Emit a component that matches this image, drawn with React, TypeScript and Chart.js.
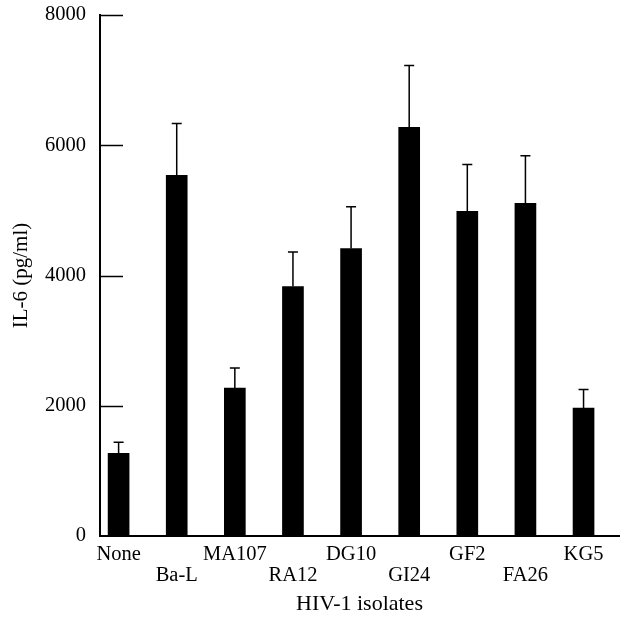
import React, { useEffect, useRef } from "react";
import { Chart, registerables } from "chart.js";

Chart.register(...registerables);

const categories = ["None", "Ba-L", "MA107", "RA12", "DG10", "GI24", "GF2", "FA26", "KG5"];
const il6Values = [1270, 5540, 2270, 3830, 4415, 6275, 4985, 5110, 1965];
const errorValues = [170, 795, 310, 530, 640, 950, 720, 730, 285];
const yTicks = [0, 2000, 4000, 6000, 8000];

const FONT = "'Liberation Serif', 'Times New Roman', serif";

const errorBarPlugin = {
  id: "errorBars",
  afterDatasetsDraw(chart: any) {
    const { ctx } = chart;
    const meta = chart.getDatasetMeta(0);
    const yScale = chart.scales.y;
    ctx.save();
    ctx.strokeStyle = "#000";
    ctx.lineWidth = 1.5;
    meta.data.forEach((bar: any, i: number) => {
      const x = bar.x;
      const yTop = yScale.getPixelForValue(il6Values[i] + errorValues[i]);
      const yBase = yScale.getPixelForValue(il6Values[i]);
      ctx.beginPath();
      ctx.moveTo(x, yBase);
      ctx.lineTo(x, yTop);
      ctx.moveTo(x - 5, yTop);
      ctx.lineTo(x + 5, yTop);
      ctx.stroke();
    });
    ctx.restore();
  },
};

const innerTickPlugin = {
  id: "innerTicks",
  afterDraw(chart: any) {
    const { ctx, chartArea } = chart;
    const yScale = chart.scales.y;
    ctx.save();
    ctx.strokeStyle = "#000";
    ctx.lineWidth = 1.5;
    yTicks.forEach((v) => {
      if (v === 0) return;
      const y = Math.round(yScale.getPixelForValue(v)) + 0.5;
      ctx.beginPath();
      ctx.moveTo(chartArea.left, y);
      ctx.lineTo(chartArea.left + 23, y);
      ctx.stroke();
    });
    ctx.restore();
  },
};

export default function App() {
  const canvasRef = useRef<HTMLCanvasElement | null>(null);

  useEffect(() => {
    if (!canvasRef.current) return;
    Chart.defaults.font.family = FONT;
    Chart.defaults.color = "#000";
    const chart = new Chart(canvasRef.current, {
      type: "bar",
      data: {
        datasets: [
          {
            data: categories.map((_, i) => ({ x: i, y: il6Values[i] })),
            backgroundColor: "#000",
            borderWidth: 0,
            barThickness: 21,
          },
        ],
      },
      options: {
        animation: false,
        responsive: false,
        events: [],
        layout: { padding: { top: 15, right: 7, bottom: 0, left: 0 } },
        plugins: { legend: { display: false }, tooltip: { enabled: false } },
        scales: {
          x: {
            type: "linear",
            offset: false,
            min: -0.32,
            max: 8.61,
            afterBuildTicks: (scale: any) => {
              scale.ticks = categories.map((_, i) => ({ value: i }));
            },
            afterFit: (scale: any) => {
              scale.height = 88;
            },
            grid: { display: false, drawTicks: false, offset: false },
            border: { display: true, color: "#000", width: 2 },
            ticks: {
              autoSkip: false,
              maxRotation: 0,
              minRotation: 0,
              padding: 9,
              color: "#000",
              font: { size: 20.5, family: FONT, lineHeight: 0.98 },
              callback: (value: any) => {
                const i = Math.round(Number(value));
                return i % 2 === 1 ? ["", categories[i]] : categories[i];
              },
            },
            title: {
              display: true,
              text: "HIV-1 isolates",
              color: "#000",
              font: { size: 22, family: FONT },
              padding: { top: 0, bottom: 7 },
            },
          },
          y: {
            min: 0,
            max: 8000,
            afterBuildTicks: (scale: any) => {
              scale.ticks = yTicks.map((v) => ({ value: v }));
            },
            afterFit: (scale: any) => {
              scale.width = 100;
            },
            grid: {
              display: true,
              drawOnChartArea: false,
              drawTicks: true,
              tickLength: 14,
              color: "rgba(0,0,0,0)",
            },
            border: { display: true, color: "#000", width: 2 },
            ticks: {
              padding: 0,
              color: "#000",
              font: { size: 20.5, family: FONT },
              callback: (value: any) => String(value),
            },
            title: {
              display: true,
              text: "IL-6 (pg/ml)",
              color: "#000",
              font: { size: 21, family: FONT },
              padding: { top: 9, bottom: 0 },
            },
          },
        },
      },
      plugins: [errorBarPlugin, innerTickPlugin],
    });
    return () => chart.destroy();
  }, []);

  return (
    <div style={{ position: "fixed", left: 0, top: 0, width: 626, height: 624, background: "#fff" }}>
      <canvas ref={canvasRef} width={626} height={624} />
    </div>
  );
}
